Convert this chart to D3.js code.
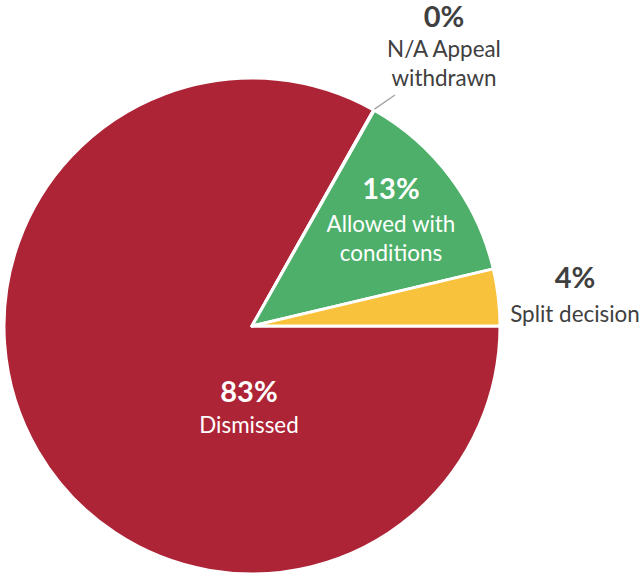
<!DOCTYPE html>
<html><head><meta charset="utf-8">
<script src="https://cdn.jsdelivr.net/npm/d3@7"></script>
<style>body{margin:0;background:#fff;} svg{display:block;}</style>
</head><body>
<svg id="chart" width="644" height="576"></svg>
<script>
const categories = ["Dismissed", "N/A Appeal withdrawn", "Allowed with conditions", "Split decision"];
const values = [83.2, 0.05, 13.1, 3.7];
const pctLabels = ["83%", "0%", "13%", "4%"];
const nameLines = [["Dismissed"], ["N/A Appeal", "withdrawn"], ["Allowed with", "conditions"], ["Split decision"]];
const colors = ["#AE2437", "#8A8A8A", "#4DAF69", "#F9C23C"];

const svg = d3.select("#chart");
const cx = 252, cy = 326, R = 248;
const g = svg.append("g").attr("transform", `translate(${cx},${cy})`);

const pie = d3.pie().sort(null).value(d => d).startAngle(Math.PI/2).endAngle(Math.PI/2 + 2*Math.PI);
const arcs = pie(values);
const arc = d3.arc().innerRadius(0).outerRadius(R);

g.selectAll("path.slice").data(arcs).enter().append("path")
  .attr("class","slice")
  .attr("d", arc)
  .attr("fill", (d,i) => colors[i])
  .attr("stroke", "#fff").attr("stroke-width", 3).attr("stroke-linejoin","round");

const font = "Lato, 'Open Sans', sans-serif";
const labelPos = [
  {x: 249, y: 402, fill: "#fff", lh: 31},
  {x: 444, y: 27, fill: "#404040", lh: 30},
  {x: 391, y: 199, fill: "#fff", lh: 33},
  {x: 575, y: 288, fill: "#404040", lh: 34}
];
const naMid = (arcs[1].startAngle + arcs[1].endAngle)/2;
const p0 = [Math.sin(naMid)*(R+1), -Math.cos(naMid)*(R+1)];
g.append("line")
  .attr("x1", p0[0]).attr("y1", p0[1])
  .attr("x2", 395 - cx).attr("y2", 95 - cy)
  .attr("stroke", "#A6A6A6").attr("stroke-width", 1.5);

categories.forEach((c,i) => {
  const p = labelPos[i];
  const t = svg.append("text").attr("text-anchor","middle").attr("font-family", font).attr("fill", p.fill);
  t.append("tspan").attr("x", p.x).attr("y", p.y).attr("font-weight", 700).attr("font-size", 29).text(pctLabels[i]);
  nameLines[i].forEach((ln, j) => {
    t.append("tspan").attr("x", p.x).attr("y", p.y + p.lh + j*29).attr("font-size", 22.4).text(ln);
  });
});
</script>
</body></html>
